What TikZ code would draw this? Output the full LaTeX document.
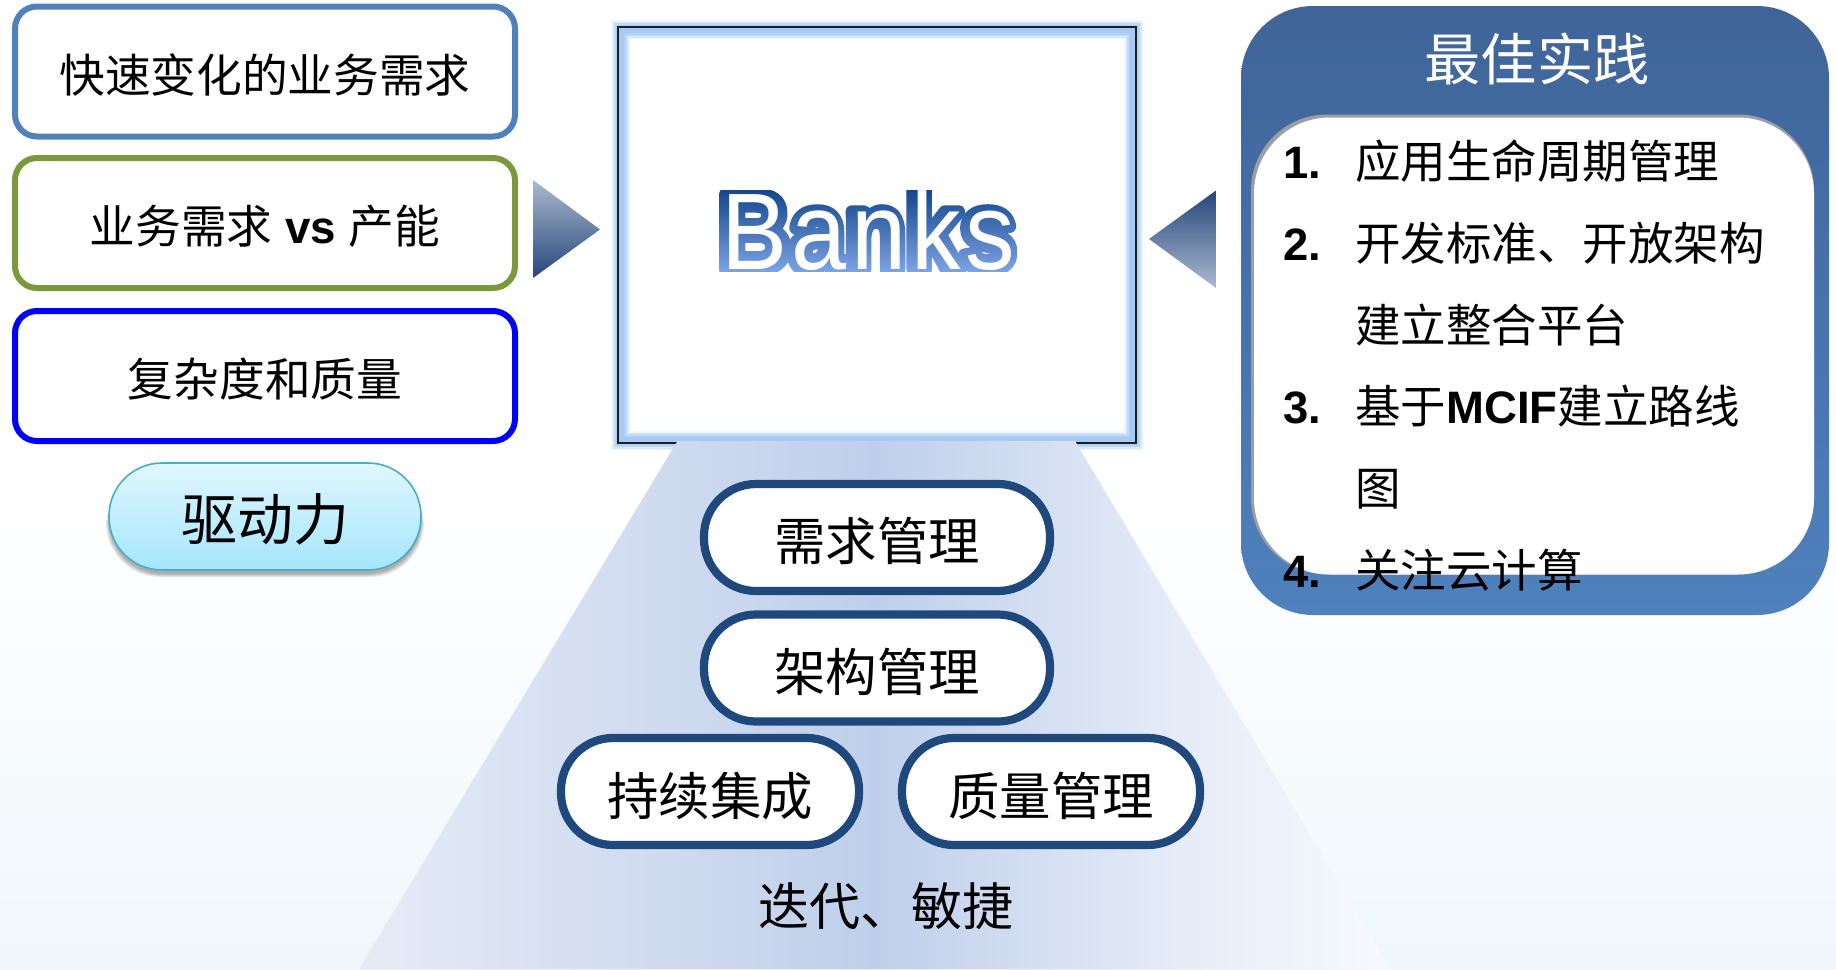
\documentclass[tikz,border=0pt]{standalone}
\usepackage{fontspec}
\usetikzlibrary{fadings}
\newfontfamily\cjk{Noto Sans CJK SC}
\newfontfamily\arb{Liberation Sans}
\newfontfamily\banksout[FakeBold=12]{Liberation Sans Bold}
\newfontfamily\banksin[LetterSpace=4.6]{Liberation Sans}
\newcommand\lb[1]{{\arb\bfseries #1}}
\newcommand\dn[2][1.6pt]{\raisebox{-#1}[\height][\depth]{#2}}
\definecolor{bgbot}{HTML}{EFF7FC}
\definecolor{trA}{HTML}{E6EBF6}
\definecolor{trB}{HTML}{BFCFEB}
\definecolor{trC}{HTML}{E6ECF8}
\definecolor{trD}{HTML}{F6FAFD}
\definecolor{navy}{HTML}{1F497D}
\pgfdeclareverticalshading{bgsh}{100bp}{color(0bp)=(bgbot);color(25bp)=(bgbot);color(48bp)=(white);color(100bp)=(white)}
\pgfdeclarehorizontalshading{trsh}{100bp}{color(0bp)=(trA);color(25bp)=(trA);color(50bp)=(trB);color(65bp)=(trC);color(75bp)=(trD);color(100bp)=(trD)}
\begin{tikzfadingfrompicture}[name=banksfade,line join=round]
\pgfsetroundjoin
\node[text=transparent!0,inner sep=0pt,yscale=1.1,transform shape,font=\banksout\fontsize{49.5}{58}\selectfont] at (0,0) {Banks};
\end{tikzfadingfrompicture}
\tikzset{
 drv/.style={draw,line width=3pt,rounded corners=11pt,inner sep=0pt,fill=white,minimum width=250pt,minimum height=65pt,font=\cjk\fontsize{22.85}{27}\selectfont},
 pill/.style={draw=navy,line width=4.1pt,rounded corners=26pt,inner sep=0pt,fill=white,minimum height=53.5pt,font=\cjk\fontsize{25.7}{30}\selectfont},
 item/.style={anchor=base west,inner sep=0pt,font=\cjk\fontsize{22.75}{27}\selectfont},
 num/.style={anchor=base west,inner sep=0pt,font=\arb\bfseries\fontsize{22.7}{27}\selectfont},
}
\begin{document}
\begin{tikzpicture}[x=0.5pt,y=-0.5pt]
\useasboundingbox (0,0) rectangle (1836,969);
\path[shading=bgsh] (0,0) rectangle (1836,969);

% driver boxes
\node[drv,draw={rgb,255:red,79;green,129;blue,189}] (b1) at (265,71.5) {\dn{快速变化的业务需求}};
\node[drv,draw={rgb,255:red,122;green,152;blue,60}] (b2) at (265,223) {\dn{业务需求\hspace{1.2pt} \lb{vs} \hspace{1.2pt}产能}};
\node[drv,draw={rgb,255:red,0;green,0;blue,255}] (b3) at (265,376) {\dn{复杂度和质量}};
\foreach \g in {3,2,1,0}{
  \fill[black,opacity=.09,rounded corners=27pt] (109-\g,470+\g) rectangle (421+\g,574+\g);
}
\node[inner sep=0pt,rounded corners=26.5pt,minimum width=156pt,minimum height=53.5pt,
  draw={rgb,255:red,75;green,172;blue,198},line width=.8pt,
  top color={rgb,255:red,224;green,247;blue,255},bottom color={rgb,255:red,164;green,230;blue,252},
  font=\cjk\fontsize{28}{32}\selectfont] (drive) at (265,516.5) {\dn[1.2pt]{驱动力}};

% arrows
\shade[top color={rgb,255:red,170;green,186;blue,208},bottom color={rgb,255:red,38;green,70;blue,122}]
  (533,180) -- (600,229.5) -- (533,278) -- cycle;
\shade[top color={rgb,255:red,38;green,70;blue,122},bottom color={rgb,255:red,170;green,186;blue,208}]
  (1216,190.5) -- (1149,239) -- (1216,288) -- cycle;

% Banks box
\fill[white] (618,27) rectangle (1136,443);
\foreach \w/\c in {19/EDF4FD,16/D8E8FB,13/C2DAF8,10/B0D1F6,7/A6CAF4}{
  \definecolor{gl}{HTML}{\c}
  \draw[gl,line width=\w*0.5pt] (620.5,29.5) rectangle (1133.5,440.5);
}
\node[draw={rgb,255:red,30;green,30;blue,30},line width=1.4pt,inner sep=0pt,minimum width=259pt,minimum height=208pt] (bank) at (877,235) {};

% funnel
\path[shading=trsh] (677.5,441) -- (1075,441) -- (1390,969) -- (359,969) -- cycle;

% Banks word
\shade[path fading=banksfade,fit fading=false,fading transform={shift={(867,230.5)}},
  top color={rgb,255:red,10;green,63;blue,133},bottom color={rgb,255:red,133;green,170;blue,235}]
  (690,183) rectangle (1044,278);
\node[text=white,inner sep=0pt,yscale=1.1,transform shape,font=\banksin\fontsize{49.5}{58}\selectfont] (word) at (868,230.5) {Banks};

% funnel pills
\node[pill,minimum width=173pt] (p1) at (877,537.5) {\dn[1.8pt]{需求管理}};
\node[pill,minimum width=173pt] (p2) at (877,668) {\dn[1.8pt]{架构管理}};
\node[pill,minimum width=149pt] (p3) at (710,791.5) {\dn[2.2pt]{持续集成}};
\node[pill,minimum width=149pt] (p4) at (1051,791.5) {\dn[2.2pt]{质量管理}};
\node[inner sep=0pt,font=\cjk\fontsize{25.5}{30}\selectfont] (iter) at (886,906) {迭代、敏捷};

% best practice panel
\node[inner sep=0pt,rounded corners=36pt,minimum width=294pt,minimum height=304.5pt,
  top color={rgb,255:red,63;green,100;blue,152},bottom color={rgb,255:red,79;green,129;blue,189}] (panel) at (1535,310.5) {};
\node[inner sep=0pt,rounded corners=38pt,minimum width=281.5pt,minimum height=230pt,fill={rgb,255:red,155;green,158;blue,165}] (inshadow) at (1532.5,344.5) {};
\node[inner sep=0pt,rounded corners=38pt,minimum width=280pt,minimum height=228.5pt,fill=white] (inner) at (1534,346) {};
\node[inner sep=0pt,text=white,font=\cjk\fontsize{28.1}{33}\selectfont] (title) at (1537,58.5) {最佳实践};

\node[num] (n1) at (1283,178) {1.};
\node[item] (t1) at (1355,178) {应用生命周期管理};
\node[num] (n2) at (1283,260) {2.};
\node[item] (t2) at (1355,260) {开发标准、开放架构};
\node[item] (t2b) at (1355,342.5) {建立整合平台};
\node[num] (n3) at (1283,423) {3.};
\node[item] (t3) at (1355,423) {基于\lb{MCIF}建立路线};
\node[item] (t3b) at (1355,505) {图};
\node[num] (n4) at (1283,587) {4.};
\node[item] (t4) at (1355,587) {关注云计算};
\end{tikzpicture}
\end{document}
